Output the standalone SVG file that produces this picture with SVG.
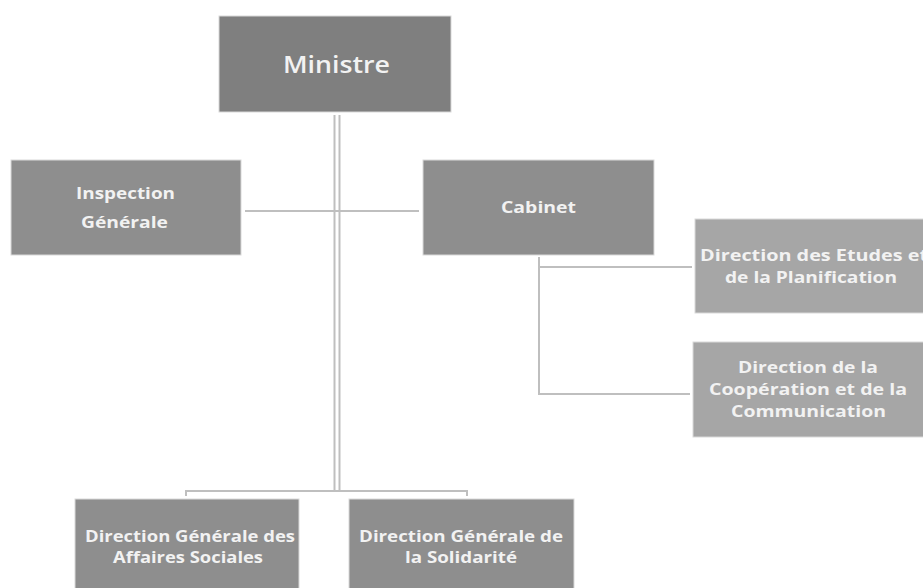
<svg xmlns="http://www.w3.org/2000/svg" width="923" height="588" viewBox="0 0 923 588">
<style>
.box{stroke:#d9d9d9;stroke-width:1}
.dark{fill:#7f7f7f}
.mid{fill:#8e8e8e}
.light{fill:#a6a6a6}
.t{font-family:"Open Sans","Liberation Sans",sans-serif;font-weight:bold;fill:#f2f2f2;font-size:15.5px}
.big{font-size:24px;font-weight:600}
.c{fill:none;stroke:#bfbfbf;stroke-width:2}
</style>
<rect width="923" height="588" fill="#ffffff"/>
<g id="connectors">
<line class="c" x1="334.5" y1="115" x2="334.5" y2="490"/>
<line class="c" x1="339.5" y1="115" x2="339.5" y2="490"/>
<line class="c" x1="245" y1="211" x2="419" y2="211"/>
<polyline class="c" points="186,496 186,491 467,491 467,496"/>
<polyline class="c" points="539,257 539,394 690,394"/>
<line class="c" x1="539" y1="267" x2="692" y2="267"/>
</g>
<g id="ministre">
<rect class="box dark" x="219" y="16" width="232" height="96"/>
<text class="t big" x="283" y="73" textLength="107" lengthAdjust="spacingAndGlyphs">Ministre</text>
</g>
<g id="inspection">
<rect class="box mid" x="11" y="160" width="230" height="95"/>
<text class="t" x="76" y="199" textLength="99" lengthAdjust="spacingAndGlyphs">Inspection</text>
<text class="t" x="81" y="228" textLength="87" lengthAdjust="spacingAndGlyphs">Générale</text>
</g>
<g id="cabinet">
<rect class="box mid" x="423" y="160" width="231" height="95"/>
<text class="t" x="501" y="213" textLength="75" lengthAdjust="spacingAndGlyphs">Cabinet</text>
</g>
<g id="etudes">
<rect class="box light" x="695" y="219" width="240" height="94"/>
<text class="t" x="700" y="261" textLength="228" lengthAdjust="spacingAndGlyphs">Direction des Etudes et</text>
<text class="t" x="725" y="283" textLength="172" lengthAdjust="spacingAndGlyphs">de la Planification</text>
</g>
<g id="cooperation">
<rect class="box light" x="693" y="342" width="240" height="95"/>
<text class="t" x="738" y="373" textLength="140" lengthAdjust="spacingAndGlyphs">Direction de la</text>
<text class="t" x="709" y="395" textLength="198" lengthAdjust="spacingAndGlyphs">Coopération et de la</text>
<text class="t" x="731" y="417" textLength="155" lengthAdjust="spacingAndGlyphs">Communication</text>
</g>
<g id="dgas">
<rect class="box mid" x="75" y="499" width="224" height="100"/>
<text class="t" x="85" y="542" textLength="210" lengthAdjust="spacingAndGlyphs">Direction Générale des</text>
<text class="t" x="113" y="563" textLength="150" lengthAdjust="spacingAndGlyphs">Affaires Sociales</text>
</g>
<g id="dgs">
<rect class="box mid" x="349" y="499" width="225" height="100"/>
<text class="t" x="359" y="542" textLength="204" lengthAdjust="spacingAndGlyphs">Direction Générale de</text>
<text class="t" x="405" y="563" textLength="112" lengthAdjust="spacingAndGlyphs">la Solidarité</text>
</g>
</svg>
